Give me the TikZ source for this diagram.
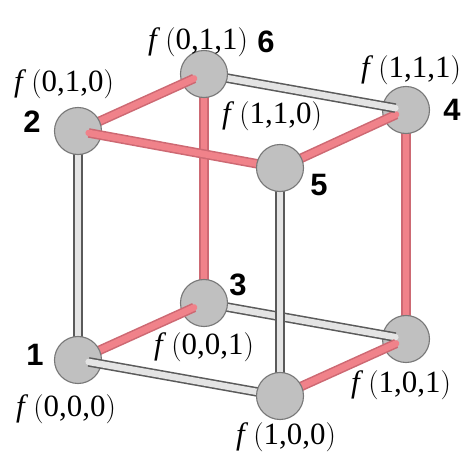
\documentclass[tikz,border=0pt]{standalone}
\usepackage{fontspec}
\setmainfont{Liberation Serif}
\newfontfamily\numfont{Liberation Sans}
\usepackage{tikz}
\usetikzlibrary{positioning}

\definecolor{ballfill}{RGB}{192,192,192}
\definecolor{balledge}{RGB}{120,120,120}
\definecolor{rodpink}{RGB}{240,130,138}
\definecolor{rodpinkedge}{RGB}{205,105,115}
\definecolor{rodgray}{RGB}{228,228,228}
\definecolor{rodgrayedge}{RGB}{90,90,90}

\newcommand{\fval}[1]{\textit{f}\,$\bigl($#1$\bigr)$}

\begin{document}
\begin{tikzpicture}[
  ball/.style={circle,draw=balledge,fill=ballfill,line width=0.8pt,minimum size=11.75mm,inner sep=0pt},
  pinkrod/.style={draw=rodpink,line width=4.6pt,line cap=round,shorten >=2.7mm,
    preaction={draw=rodpinkedge,line width=6.8pt}},
  grayrod/.style={draw=rodgray,line width=4.6pt,line cap=round,shorten >=2.7mm,
    preaction={draw=rodgrayedge,line width=6.8pt}},
  postrod/.style={shorten >=0pt},
  flabel/.style={font=\fontsize{22}{26}\selectfont,inner sep=0pt},
  idx/.style={font=\numfont\bfseries\fontsize{22}{26}\selectfont,inner sep=0pt}]
\useasboundingbox (-1.95,-2.35) rectangle (9.6,9.0);
% corner positions
\coordinate (p1) at (0,0);
\coordinate (p100) at (5.05,-0.9);
\coordinate (p3) at (3.15,1.425);
\coordinate (p101) at (8.2,0.525);
\coordinate (p2) at (0,5.725);
\coordinate (p5) at (5.05,4.8);
\coordinate (p6) at (3.15,7.15);
\coordinate (p4) at (8.2,6.25);
% vertical posts
\draw[grayrod,postrod] (p2) -- (p1);
\draw[pinkrod,postrod] (p6) -- (p3);
\draw[pinkrod,postrod] (p4) -- (p101);
% bottom layer
\node[ball] (b101) at (p101) {};
\draw[grayrod] (p3) -- (b101.center);
\draw[pinkrod] (p100) -- (b101.center);
\node[ball] (b3) at (p3) {};
\draw[pinkrod] (p1) -- (b3.center);
\node[ball] (b1) at (p1) {};
\draw[grayrod] (p100) -- (b1.center);
% top layer
\node[ball] (b4) at (p4) {};
\draw[pinkrod] (p5) -- (b4.center);
\draw[grayrod] (p6) -- (b4.center);
\node[ball] (b6) at (p6) {};
\draw[pinkrod] (p2) -- (b6.center);
\node[ball] (b2) at (p2) {};
\draw[pinkrod] (p5) -- (b2.center);
\draw[grayrod,postrod] (p5) -- (p100);
\node[ball] (b5) at (p5) {};
\node[ball] (b100) at (p100) {};
% labels
\node[flabel] (f010) at (-0.35,6.9) {\fval{0,1,0}};
\node[flabel] (f011) at (3.0,7.95) {\fval{0,1,1}};
\node[flabel] (f111) at (8.325,7.25) {\fval{1,1,1}};
\node[flabel] (f110) at (4.85,6.1) {\fval{1,1,0}};
\node[flabel] (f001) at (3.15,0.325) {\fval{0,0,1}};
\node[flabel] (f000) at (-0.3,-1.225) {\fval{0,0,0}};
\node[flabel] (f100) at (5.2,-1.925) {\fval{1,0,0}};
\node[flabel] (f101) at (8.075,-0.625) {\fval{1,0,1}};
\node[idx] (n1) at (-1.075,0.125) {1};
\node[idx] (n2) at (-1.15,5.95) {2};
\node[idx] (n3) at (4.0,1.875) {3};
\node[idx] (n4) at (9.35,6.25) {4};
\node[idx] (n5) at (6.025,4.375) {5};
\node[idx] (n6) at (4.7,7.95) {6};
\end{tikzpicture}
\end{document}
